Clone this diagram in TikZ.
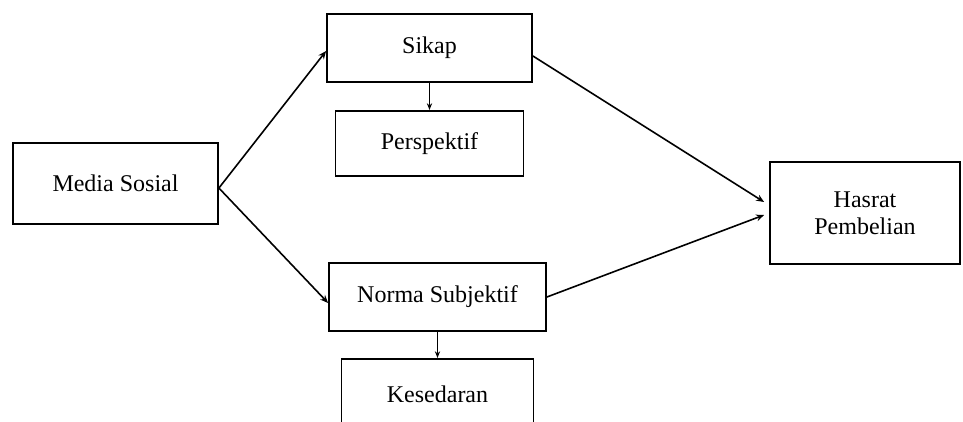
\documentclass[tikz,border=0pt]{standalone}
\usepackage{fontspec}
\setmainfont{Liberation Serif}
\usetikzlibrary{arrows.meta, positioning}
\tikzset{
  box/.style={
    rectangle, draw=black, line width=1.35pt, fill=white,
    text centered, align=center, inner sep=2pt
  },
  arrow/.style={
    -{Stealth[length=6pt,width=5pt]}, line width=1.2pt, color=black
  },
  smallarrow/.style={
    -{Stealth[length=5pt,width=4pt]}, line width=0.8pt, color=black
  }
}

\begin{document}
\begin{tikzpicture}[x=0.75pt, y=-0.75pt, font=\fontsize{18}{20.5}\selectfont]

\useasboundingbox (0,0) rectangle (963,421);

% Variabel bebas
\node (media) [box, minimum width=153.75pt, minimum height=60.75pt] at (115.5,183.5) {Media Sosial};

% Variabel antara
\node (sikap) [box, minimum width=153.75pt, minimum height=51pt] at (429.5,48) {Sikap};
\node (perspektif) [box, minimum width=141pt, minimum height=48.75pt, below=20.25pt of sikap] {Perspektif};
\node (norma) [box, minimum width=162.75pt, minimum height=51pt] at (437.5,297) {Norma Subjektif};
\node (kesedaran) [box, minimum width=144pt, minimum height=52.5pt, below=19.5pt of norma] {Kesedaran};

% Variabel terikat
\node (hasrat) [box, minimum width=142.5pt, minimum height=76.5pt] at (865,213) {Hasrat\\Pembelian};

% Panah media ke sikap dan norma
\draw [arrow] ([yshift=-3.4pt]media.east) -- ([yshift=-2.25pt]sikap.west);
\draw [arrow] ([yshift=-3.4pt]media.east) -- ([yshift=-4.5pt]norma.west);

% Panah ke kotak bawah
\draw [smallarrow] (sikap) -- (perspektif);
\draw [smallarrow] (norma) -- (kesedaran);

% Panah ke hasrat pembelian
\draw [arrow] ([yshift=-6pt]sikap.east) -- ([xshift=-3.75pt,yshift=8.25pt]hasrat.west);
\draw [arrow] (norma.east) -- ([xshift=-3.75pt,yshift=-1.5pt]hasrat.west);

\end{tikzpicture}
\end{document}
